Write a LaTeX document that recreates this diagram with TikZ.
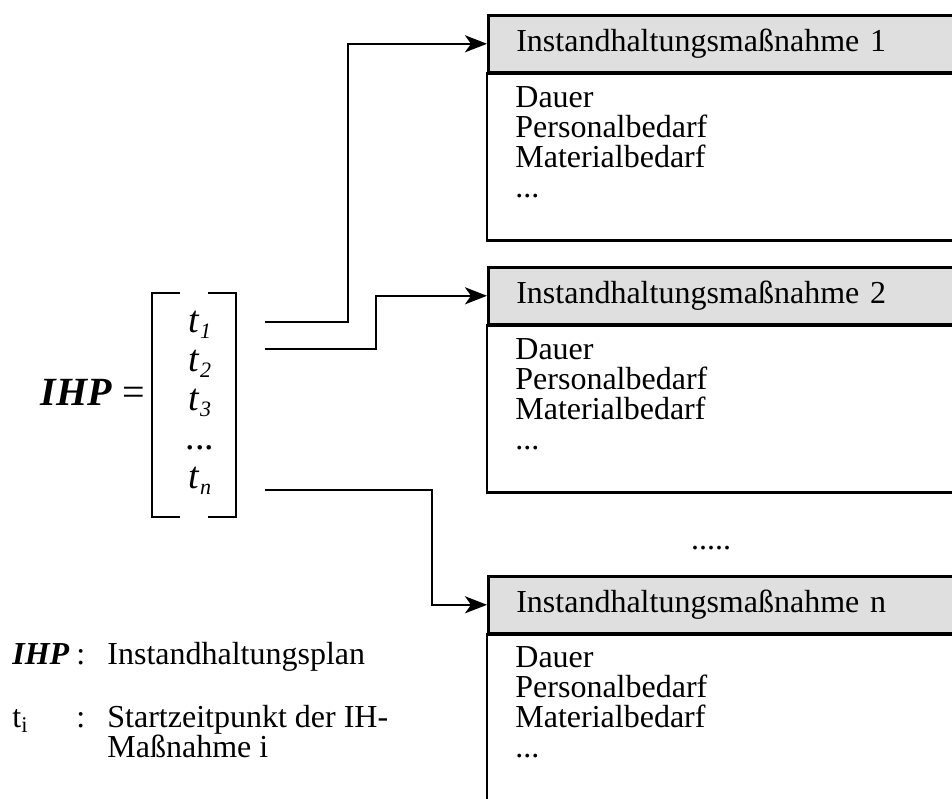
\documentclass[tikz,border=0pt]{standalone}
\usepackage{fontspec}
\setmainfont{Liberation Serif}
\usepackage{tikz}
\usetikzlibrary{positioning, arrows.meta, calc}

\newcommand{\tsub}[1]{\textit{t}\raisebox{-0.4ex}{\fontsize{11}{11}\selectfont\textit{#1}}}

\begin{document}
\begin{tikzpicture}[x=0.5pt, y=-0.5pt,
    headbox/.style={draw, line width=1.3pt, fill=gray!25, anchor=north west,
      text width=222pt, align=left, inner xsep=14pt, inner ysep=0pt,
      minimum height=28.5pt, font=\fontsize{16}{15}\selectfont},
    boxline/.style={line width=1.3pt},
    bodytxt/.style={anchor=north west, align=left, inner sep=0pt,
      font=\fontsize{16}{15}\selectfont},
    entry/.style={anchor=base, inner sep=0pt, font=\fontsize{19}{19}\selectfont},
    brack/.style={line width=1.3pt},
    flow/.style={line width=1.1pt, -{Stealth[length=11pt, width=8.5pt, inset=3pt]}},
    legtxt/.style={anchor=base west, inner sep=0pt, font=\fontsize{16}{15}\selectfont}]
        \useasboundingbox (0,0) rectangle (952,798);
        \clip (0,0) rectangle (952,798);
        % Measures (boxes run off the right edge)
        \node[headbox] (h1) at (487,14) {Instandhaltungsmaßnahme 1};
        \draw[boxline] (h1.south west) rectangle ++(520,167);
        \node[bodytxt] (b1) at (515,86) {Dauer\\Personalbedarf\\Materialbedarf\\...};
        \node[headbox] (h2) at (487,266) {Instandhaltungsmaßnahme 2};
        \draw[boxline] (h2.south west) rectangle ++(520,167);
        \node[bodytxt] (b2) at (515,338) {Dauer\\Personalbedarf\\Materialbedarf\\...};
        \node[headbox] (h3) at (487,575) {Instandhaltungsmaßnahme n};
        \draw[boxline] (h3.south west) rectangle ++(520,240);
        \node[bodytxt] (b3) at (515,646) {Dauer\\Personalbedarf\\Materialbedarf\\...};
        \node[inner sep=0pt, font=\fontsize{16}{15}\selectfont] (gap) at (711,548) {.....};
        % Plan vector
        \node[anchor=base east, inner sep=0pt, font=\fontsize{20}{20}\selectfont] (ihp) at (145,405) {\textbf{\textit{IHP}} =};
        \draw[brack] (180,293) -- (152,293) -- (152,517) -- (180,517);
        \draw[brack] (208,293) -- (236,293) -- (236,517) -- (208,517);
        \node[entry] (t1) at (200,332) {\tsub{1}};
        \node[entry] (t2) at (200,371) {\tsub{2}};
        \node[entry] (t3) at (200,410) {\tsub{3}};
        \node[entry] (td) at (200,449) {...};
        \node[entry] (tn) at (200,488) {\tsub{n}};
        % Start times -> measures
        \coordinate (o1) at (265,322);
        \coordinate (o2) at (265,349);
        \coordinate (on) at (265,490);
        \draw[flow] (o1) -- ++(83,0) |- (h1.west);
        \draw[flow] (o2) -- ++(111,0) |- (h2.west);
        \draw[flow] (on) -- ++(167,0) |- (h3.west);
        % Legend
        \node[legtxt] (k1) at (12,664) {\textbf{\textit{IHP}}};
        \node[legtxt] (c1) at (76,664) {:};
        \node[legtxt] (d1) at (107,664) {Instandhaltungsplan};
        \node[legtxt] (k2) at (12,727) {t\textsubscript{i}};
        \node[legtxt] (c2) at (76,727) {:};
        \node[legtxt] (d2) at (107,727) {Startzeitpunkt der IH-};
        \node[legtxt] (d3) at (107,757) {Maßnahme i};
      \end{tikzpicture}
\end{document}
